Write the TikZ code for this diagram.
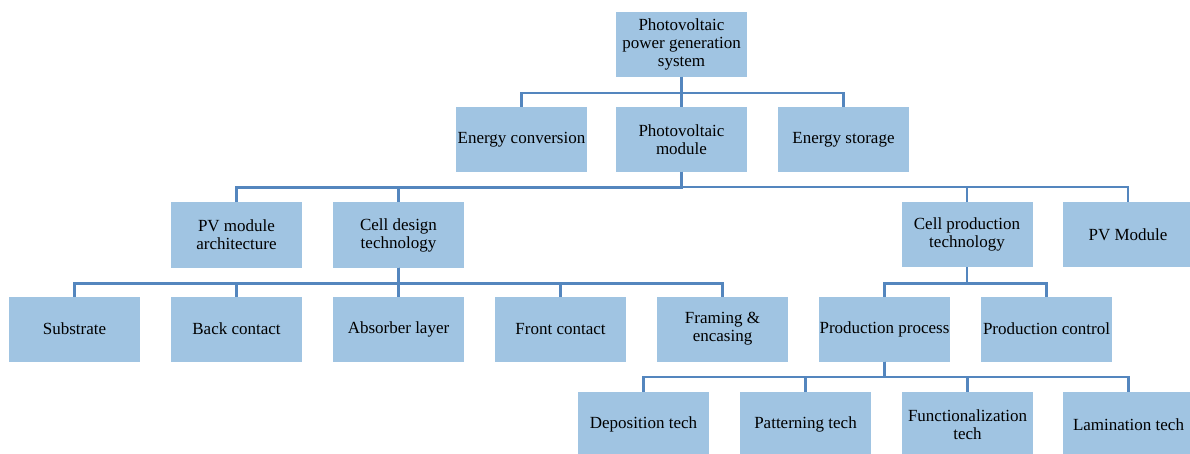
\documentclass[tikz,border=0pt]{standalone}
\usepackage{fontspec}
\setmainfont{Liberation Serif}
\usetikzlibrary{positioning}
\definecolor{boxfill}{RGB}{160,196,226}
\definecolor{linkcol}{RGB}{84,134,190}

\begin{document}
\begin{tikzpicture}[
  x=1pt, y=-1pt,
  node distance=30pt and 31pt,
  box/.style={fill=boxfill,align=center,inner sep=0pt,outer sep=0pt,
    minimum width=131pt,minimum height=65pt,font=\fontsize{17}{18}\selectfont},
  link/.style={draw=linkcol,line width=2.4pt}
]
\useasboundingbox (0,0) rectangle (1190,454);

% levels 1 and 2
\node[box] (sys) at (681.5,44.5) {Photovoltaic\\power generation\\system};
\node[box, below=of sys] (pvm) {Photovoltaic\\module};
\node[box, left=29pt of pvm] (conv) {Energy conversion};
\node[box, right=of pvm] (stor) {Energy storage};

% level 4
\node[box] (sub) at (74.5,329) {Substrate};
\node[box, right=of sub] (back) {Back contact};
\node[box, right=of back] (absorb) {Absorber layer};
\node[box, right=of absorb] (front) {Front contact};
\node[box, right=of front] (frame) {Framing \&\\encasing};
\node[box, right=of frame] (proc) {Production process};
\node[box, right=of proc] (ctrl) {Production control};

% level 3
\node[box, above=29pt of back] (arch) {PV module\\architecture};
\node[box, above=29pt of absorb] (cdt) {Cell design\\technology};
\node[box] (cpt) at (967,234.5) {Cell production\\technology};
\node[box, right=30pt of cpt] (pvmod) {PV Module};

% level 5
\node[box] (depo) at (643.5,424.5) {Deposition tech};
\node[box, right=of depo] (pat) {Patterning tech};
\node[box, right=of pat] (func) {Functionalization\\tech};
\node[box, right=30pt of func] (lam) {Lamination tech};

\foreach \c in {conv,pvm,stor}
  \draw[link] (sys.south) |- ([yshift=14pt]\c.north) -- (\c.north);
\foreach \c in {arch,cdt,cpt,pvmod}
  \draw[link] (pvm.south) |- ([yshift=15pt]\c.north) -- (\c.north);
\foreach \c in {sub,back,absorb,front,frame}
  \draw[link] (cdt.south) |- ([yshift=13pt]\c.north) -- (\c.north);
\foreach \c in {proc,ctrl}
  \draw[link] (cpt.south) |- ([yshift=13pt]\c.north) -- (\c.north);
\foreach \c in {depo,pat,func,lam}
  \draw[link] (proc.south) |- ([yshift=15pt]\c.north) -- (\c.north);
\end{tikzpicture}
\end{document}
